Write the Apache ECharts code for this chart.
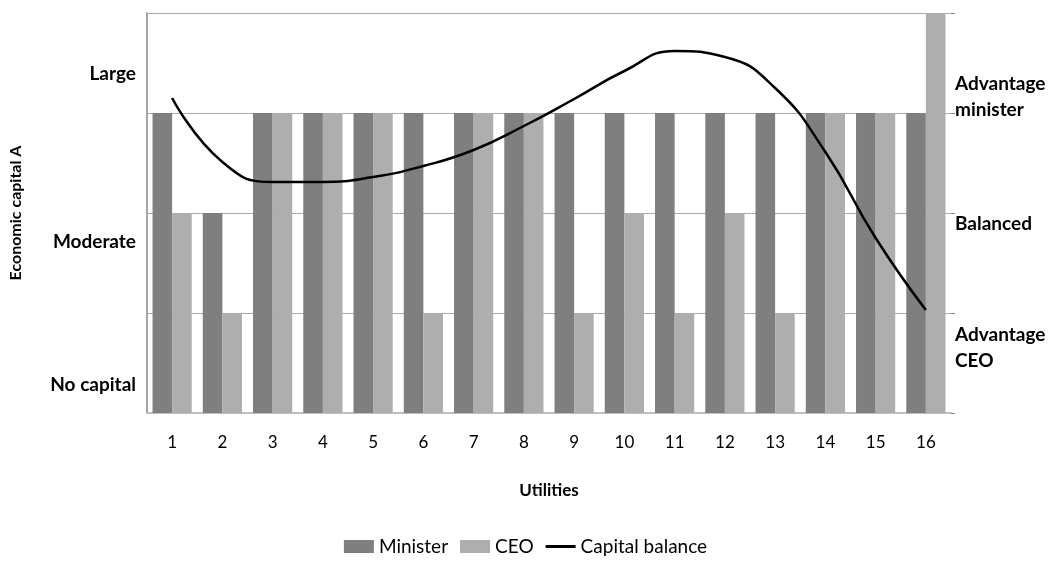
<!DOCTYPE html>
<html>
<head>
<meta charset="utf-8">
<script src="https://cdn.jsdelivr.net/npm/echarts@6/dist/echarts.min.js"></script>
<style>
html,body{margin:0;padding:0;background:#fff;}
#chart{width:1051px;height:581px;}
</style>
</head>
<body>
<div id="chart"></div>
<script>
var categories = ['1','2','3','4','5','6','7','8','9','10','11','12','13','14','15','16'];
var minister = [3,2,3,3,3,3,3,3,3,3,3,3,3,3,3,3];
var ceo = [2,1,3,3,3,1,3,3,1,2,1,2,1,3,3,4];
var capitalBalance = [3.15,2.51,2.31,2.31,2.36,2.47,2.63,2.87,3.14,3.42,3.62,3.56,3.25,2.61,1.75,1.03];
var leftLabels = ['Large','Moderate','No capital'];
var rightLabels = ['Advantage\nminister','Balanced','Advantage\nCEO'];

var FONT = 'Lato, "Open Sans", sans-serif';
var chart = echarts.init(document.getElementById('chart'), null, {renderer:'canvas'});
var option = {
  animation: false,
  backgroundColor: '#fff',
  textStyle: {fontFamily: FONT},
  grid: {left: 147, right: 100, top: 13, bottom: 168, containLabel: false},
  legend: {
    bottom: 20, left: 'center', itemWidth: 30, itemHeight: 13, itemGap: 12,
    textStyle: {fontFamily: FONT, fontSize: 19, color: '#000'},
    data: [
      {name: 'Minister', icon: 'rect'},
      {name: 'CEO', icon: 'rect'},
      {name: 'Capital balance', icon: 'path://M0,0 M0,5 L30,5 L30,8 L0,8 Z M30,13', itemStyle: {color: '#000'}}
    ]
  },
  xAxis: {
    type: 'category', data: categories,
    name: 'Utilities', nameLocation: 'middle', nameGap: 69,
    nameTextStyle: {fontFamily: FONT, fontWeight: 'bold', fontSize: 17, color: '#000'},
    axisLine: {lineStyle: {color: '#bfbfbf', width: 2}},
    axisTick: {show: false},
    axisLabel: {fontFamily: FONT, fontSize: 17, color: '#000', margin: 21}
  },
  yAxis: [{
    type: 'value', min: 0, max: 4, interval: 1,
    name: 'Economic capital A', nameLocation: 'middle', nameRotate: 90, nameGap: 123,
    nameTextStyle: {fontFamily: FONT, fontWeight: 'bold', fontSize: 16, color: '#000'},
    axisLine: {show: true, lineStyle: {color: '#868686', width: 1.5}},
    axisTick: {show: false},
    axisLabel: {show: false},
    splitLine: {lineStyle: {color: '#ababab', width: 1.2}}
  },{
    type: 'value', min: 0, max: 4, interval: 1, position: 'right',
    axisLine: {show: false},
    axisTick: {show: true, length: 4, lineStyle: {color: '#868686'}},
    axisLabel: {show: false},
    splitLine: {show: false}
  }],
  graphic: [
    {type: 'text', right: 1051-136, top: 64, style: {text: leftLabels[0], font: 'bold 19px ' + FONT, fill: '#000'}},
    {type: 'text', right: 1051-136, top: 232, style: {text: leftLabels[1], font: 'bold 19px ' + FONT, fill: '#000'}},
    {type: 'text', right: 1051-136, top: 375, style: {text: leftLabels[2], font: 'bold 19px ' + FONT, fill: '#000'}},
    {type: 'text', left: 955, top: 71, style: {text: rightLabels[0], font: 'bold 19px ' + FONT, fill: '#000', lineHeight: 26}},
    {type: 'text', left: 955, top: 214, style: {text: rightLabels[1], font: 'bold 19px ' + FONT, fill: '#000'}},
    {type: 'text', left: 955, top: 322, style: {text: rightLabels[2], font: 'bold 19px ' + FONT, fill: '#000', lineHeight: 26}}
  ],
  series: [
    {name: 'Minister', type: 'bar', data: minister, barGap: '0%', barCategoryGap: '22%',
     itemStyle: {color: '#7f7f7f'}},
    {name: 'CEO', type: 'bar', data: ceo, barGap: '0%', barCategoryGap: '22%',
     itemStyle: {color: '#aeaeae'}},
    {name: 'Capital balance', type: 'line', data: capitalBalance, smooth: 0.5,
     symbol: 'none', lineStyle: {color: '#000', width: 2.5}, itemStyle: {color: '#000'}, z: 5}
  ]
};
chart.setOption(option);
</script>
</body>
</html>
